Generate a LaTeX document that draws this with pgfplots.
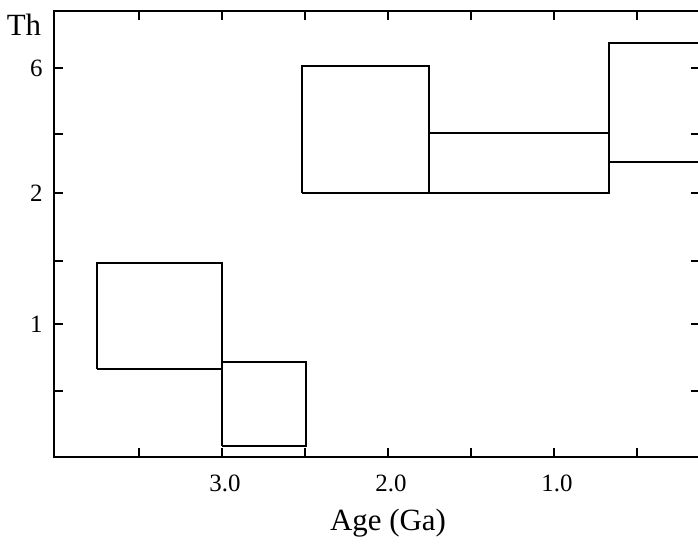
\documentclass[border=0pt]{standalone}
\usepackage{pgfplots}
\pgfplotsset{compat=1.18}
\usepackage{fontspec}
\setmainfont{Liberation Serif}
\begin{document}
\begin{tikzpicture}
\useasboundingbox (0,0) rectangle (698bp,549bp);
\begin{axis}[
  at={(54bp,92bp)}, anchor=south west,
  scale only axis, width=646bp, height=446bp,
  x dir=reverse,
  xmin=0.1205, xmax=4.012,
  ymin=0, ymax=446,
  axis line style={line width=1.7bp},
  xtick={3.5,3.0,2.5,2.0,1.5,1.0,0.5},
  xticklabels={,3.0,,2.0,,1.0,},
  ytick={66,133,196,264,323,389},
  yticklabels={,1,,2,,6},
  tick align=inside,
  major tick length=9bp,
  tick style={line width=1.4bp, black},
  /pgf/number format/assume math mode=true,
  ticklabel style={font=\fontsize{25}{25}\selectfont},
  xticklabel style={yshift=-14bp, xshift=3bp},
  yticklabel style={xshift=-8bp},
  clip=true,
]
\addplot[black, line width=1.5bp] coordinates {(3.753,88) (3.0,88) (3.0,194) (3.753,194) (3.753,88)};
\addplot[black, line width=1.5bp] coordinates {(3.0,11) (2.494,11) (2.494,95) (3.0,95) (3.0,11)};
\addplot[black, line width=1.5bp] coordinates {(2.518,264) (1.753,264) (1.753,391) (2.518,391) (2.518,264)};
\addplot[black, line width=1.5bp] coordinates {(1.753,264) (0.669,264) (0.669,324) (1.753,324) (1.753,264)};
\addplot[black, line width=1.5bp] coordinates {(-0.2,295) (0.669,295) (0.669,414) (-0.2,414)};
\end{axis}
\node[font=\fontsize{31}{31}\selectfont] at (24bp,524bp) {Th};
\node[font=\fontsize{31}{31}\selectfont, anchor=base] at (388bp,19bp) {Age (Ga)};
\end{tikzpicture}
\end{document}
